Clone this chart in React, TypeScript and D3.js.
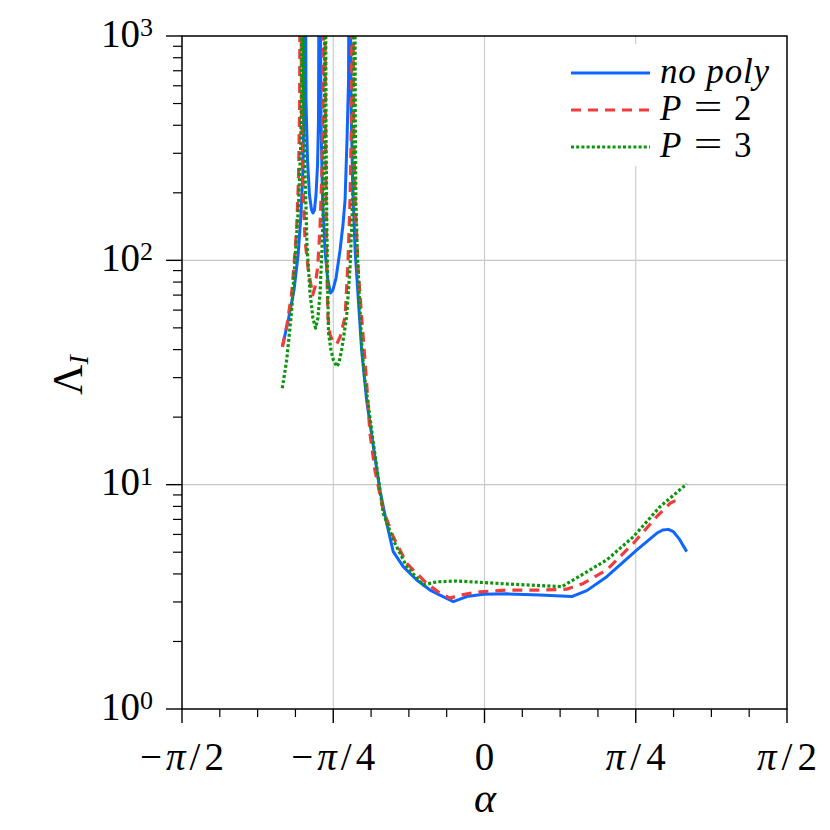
import React from "react";
import * as d3 from "d3";

// alpha (radians) and Lambda_I values; 1e4 marks a pole (off the chart)
const alphaNoPoly = [
  -1.049, -1.02, -0.989, -0.968, -0.953, -0.943, -0.937, -0.932,
  -0.927, -0.919, -0.909, -0.898, -0.891, -0.883, -0.875, -0.867, -0.862, -0.857,
  -0.849, -0.841, -0.828, -0.815, -0.8, -0.787, -0.771, -0.75, -0.735, -0.724, -0.714, -0.706, -0.701,
  -0.693, -0.685, -0.672, -0.655, -0.638, -0.612, -0.577, -0.543, -0.508, -0.474, -0.422, -0.352,
  -0.283, -0.231, -0.162, -0.092, -0.006, 0.115, 0.288, 0.453, 0.531, 0.635, 0.79, 0.894, 0.925, 0.955,
  0.98, 1.01, 1.05,
];
const lambdaNoPoly = [
  41.5, 53.6, 73.8, 105.6, 159.3, 252.7, 518.6, 1e4,
  518.6, 280.1, 195.6, 167.7, 162.6, 167.7, 195.6, 266.1, 422.4, 1e4,
  422.4, 185.8, 111.2, 83.4, 71.5, 73.8, 83.4, 111.2, 143.7, 185.8, 343.9, 636.9, 1e4,
  518.6, 228.1, 111.2, 66.6, 39.8, 23.8, 14.77, 9.47, 6.73, 5.03, 4.31, 3.76,
  3.39, 3.22, 3.01, 3.17, 3.25, 3.26, 3.22, 3.17, 3.37, 3.89, 5.11, 6.07, 6.28, 6.32,
  6.18, 5.75, 5.03,
];

const alphaP2 = [
  -1.049, -1.026, -1.001, -0.987, -0.975, -0.966, -0.96, -0.955,
  -0.95, -0.942, -0.932, -0.915, -0.892, -0.88, -0.866, -0.854, -0.845, -0.839, -0.833,
  -0.826, -0.823, -0.819, -0.813, -0.802, -0.784, -0.767, -0.75, -0.724, -0.709, -0.698, -0.691, -0.685,
  -0.68, -0.672, -0.657, -0.638, -0.612, -0.595, -0.569, -0.526, -0.474, -0.404, -0.3,
  -0.231, -0.179, -0.127, -0.023, 0.115, 0.288, 0.427, 0.513, 0.635, 0.773, 0.894, 0.963,
  0.998, 1.024,
];
const lambdaP2 = [
  41.1, 51.5, 71.5, 100.3, 141.2, 228.1, 468, 1e4,
  468, 205.9, 123.2, 90.6, 70.1, 76.1, 93.7, 141.2, 235.9, 468, 1e4,
  468, 185.8, 93.7, 56.1, 46.5, 42.8, 42.4, 45.5, 55.9, 97.3, 185.8, 422.4, 1e4,
  422.4, 185.8, 93.4, 56.1, 28.4, 17.0, 11.6, 7.71, 5.86, 4.46, 3.63,
  3.28, 3.12, 3.22, 3.33, 3.39, 3.39, 3.42, 3.63, 4.17, 5.48, 7.2, 8.26,
  8.55, 8.4,
];

const alphaP3 = [
  -1.05, -1.027, -1.001, -0.984, -0.967, -0.955, -0.95, -0.945,
  -0.94, -0.932, -0.922, -0.906, -0.891, -0.877, -0.865, -0.854, -0.844, -0.836, -0.831, -0.827,
  -0.823, -0.819, -0.815, -0.81, -0.797, -0.785, -0.767, -0.756, -0.742, -0.73, -0.716, -0.698,
  -0.688, -0.683, -0.679, -0.675,
  -0.671, -0.668, -0.661, -0.649, -0.636, -0.621, -0.577, -0.526, -0.474, -0.404, -0.318,
  -0.248, -0.144, -0.023, 0.115, 0.288, 0.401, 0.461, 0.635, 0.773, 0.911, 1.05,
];
const lambdaP3 = [
  26.9, 36.0, 60.1, 100.3, 167.7, 310.4, 574.6, 1e4,
  574.6, 252.7, 117.1, 71.5, 55.3, 49.9, 55.3, 71.5, 111.2, 185.8, 381.1, 1e4,
  381.1, 151.3, 81.7, 47.4, 39.8, 36.0, 33.6, 34.9, 39.8, 46.5, 56.1, 93.7,
  151.3, 228.1, 422.4, 1e4,
  422.4, 185.8, 111.2, 66.6, 39.8, 29.3, 15.3, 7.47, 5.67, 4.31, 3.57,
  3.69, 3.72, 3.67, 3.61, 3.55, 3.51, 3.76, 4.62, 5.86, 7.97, 10.07,
];

const xTickValues = [-Math.PI / 2, -Math.PI / 4, 0, Math.PI / 4, Math.PI / 2];
const xTickLabels = ["−π/2", "−π/4", "0", "π/4", "π/2"];
const xTickLabelWidths = [84, 84, 0, 60, 60];
const yTickValues = [1, 10, 100, 1000];
const yTickExponents = ["0", "1", "2", "3"];
const legendLabels = ["no poly", "P = 2", "P = 3"];

const FONT = "Tinos";
const ZW = "\u200B";

function PiLabel({ label }: { label: string }) {
  const idx = label.indexOf("π");
  if (idx < 0) return <>{label + ZW}</>;
  return (
    <>
      {label.slice(0, idx)}
      <tspan fontStyle="italic">π</tspan>
      {label.slice(idx + 1)}
    </>
  );
}

export default function App() {
  const left = 182, right = 787, top = 36, bottom = 709;
  const x = d3.scaleLinear().domain([-Math.PI / 2, Math.PI / 2]).range([left, right]);
  const y = d3.scaleLog().domain([1, 1000]).range([bottom, top]);
  const line = d3
    .line<[number, number]>()
    .x((d) => x(d[0]))
    .y((d) => y(d[1]));
  const zip = (a: number[], b: number[]) => a.map((v, i) => [v, b[i]] as [number, number]);

  const series = [
    { name: legendLabels[0], data: zip(alphaNoPoly, lambdaNoPoly), color: "#0f66ff", dash: undefined as string | undefined, width: 3 },
    { name: legendLabels[1], data: zip(alphaP2, lambdaP2), color: "#f03c3c", dash: "10 7", width: 3.2 },
    { name: legendLabels[2], data: zip(alphaP3, lambdaP3), color: "#0c960c", dash: "3 2.2", width: 3.2 },
  ];

  const xMinor = d3
    .range(-8, 9)
    .filter((k) => k % 4 !== 0)
    .map((k) => (k * Math.PI) / 16);
  const yMinor: number[] = [];
  for (let k = 0; k < 3; k++) for (let m = 2; m <= 9; m++) yMinor.push(m * Math.pow(10, k));

  const legendX0 = 571, legendX1 = 650, legendY0 = 73, legendDy = 37;

  return (
    <svg width={830} height={830} style={{ position: "absolute", left: 0, top: 0 }}>
      <rect x={0} y={0} width={830} height={830} fill="#fff" />

      {/* grid */}
      {xTickValues.slice(1, -1).map((v, i) => (
        <line key={"gx" + i} x1={x(v)} x2={x(v)} y1={top} y2={bottom} stroke="#c8c8c8" strokeWidth={1.1} />
      ))}
      {yTickValues.slice(1, -1).map((v, i) => (
        <line key={"gy" + i} x1={left} x2={right} y1={y(v)} y2={y(v)} stroke="#c8c8c8" strokeWidth={1.1} />
      ))}

      {/* series (clipped by an inner svg viewport) */}
      <svg x={left} y={top} width={right - left} height={bottom - top} viewBox={`${left} ${top} ${right - left} ${bottom - top}`} overflow="hidden">
        {series.map((s) => (
          <path
            key={s.name}
            d={line(s.data) || ""}
            fill="none"
            stroke={s.color}
            strokeWidth={s.width}
            strokeDasharray={s.dash}
            strokeLinejoin="round"
          />
        ))}
      </svg>

      {/* legend */}
      <rect x={560} y={44} width={222} height={122} fill="#fff" />
      {series.map((s, i) => {
        const ly = legendY0 + i * legendDy;
        return (
          <g key={"lg" + i}>
            <line x1={legendX0} x2={legendX1} y1={ly} y2={ly} stroke={s.color} strokeWidth={s.width} strokeDasharray={s.dash} />
            {i === 0 ? (
              <text x={660} y={ly + 9.5} fontSize={35} fontFamily={FONT} fontStyle="italic" textLength={110} lengthAdjust="spacing">
                {s.name + ZW}
              </text>
            ) : (
              <>
                <text x={660} y={ly + 9.5} fontSize={35} fontFamily={FONT} fontStyle="italic">
                  {s.name.split(" = ")[0] + ZW}
                </text>
                <text x={708} y={ly + 9.5} fontSize={35} textAnchor="middle" fontFamily={FONT} transform={`translate(708,0) scale(1.45,1) translate(-708,0)`}>
                  {"=" + ZW}
                </text>
                <text x={734} y={ly + 9.5} fontSize={35} fontFamily={FONT}>
                  {s.name.split(" = ")[1] + ZW}
                </text>
              </>
            )}
          </g>
        );
      })}

      {/* frame */}
      <rect x={left} y={top} width={right - left} height={bottom - top} fill="none" stroke="#000" strokeWidth={1.5} />

      {/* x ticks */}
      {xTickValues.map((v, i) => (
        <line key={"xt" + i} x1={x(v)} x2={x(v)} y1={bottom} y2={bottom + 14} stroke="#000" strokeWidth={1.4} />
      ))}
      {xMinor.map((v, i) => (
        <line key={"xm" + i} x1={x(v)} x2={x(v)} y1={bottom} y2={bottom + 8} stroke="#000" strokeWidth={1.2} />
      ))}
      {xTickValues.map((v, i) => (
        <text
          key={"xl" + i}
          x={x(v)}
          y={770}
          fontSize={39}
          textAnchor="middle"
          fontFamily={FONT}
          {...(xTickLabelWidths[i] ? { textLength: xTickLabelWidths[i], lengthAdjust: "spacing" } : {})}
        >
          <PiLabel label={xTickLabels[i]} />
        </text>
      ))}

      {/* y ticks */}
      {yTickValues.map((v, i) => (
        <line key={"yt" + i} x1={left - 16} x2={left} y1={y(v)} y2={y(v)} stroke="#000" strokeWidth={1.4} />
      ))}
      {yMinor.map((v, i) => (
        <line key={"ym" + i} x1={left - 9} x2={left} y1={y(v)} y2={y(v)} stroke="#000" strokeWidth={1.2} />
      ))}
      {yTickValues.map((v, i) => (
        <text key={"yl" + i} x={153} y={y(v) + 10.5} fontSize={39} textAnchor="end" fontFamily={FONT}>
          {"10" + ZW}
          <tspan dy={-10.5} fontSize={26}>
            {yTickExponents[i]}
          </tspan>
        </text>
      ))}

      {/* axis labels */}
      <text x={485} y={812} fontSize={42} textAnchor="middle" fontFamily={FONT} fontStyle="italic">
        α
      </text>
      <text transform="translate(82,375) rotate(-90)" fontSize={42} textAnchor="middle" fontFamily={FONT}>
        Λ
        <tspan fontSize={28} dy={6} fontStyle="italic">
          I
        </tspan>
      </text>
    </svg>
  );
}
